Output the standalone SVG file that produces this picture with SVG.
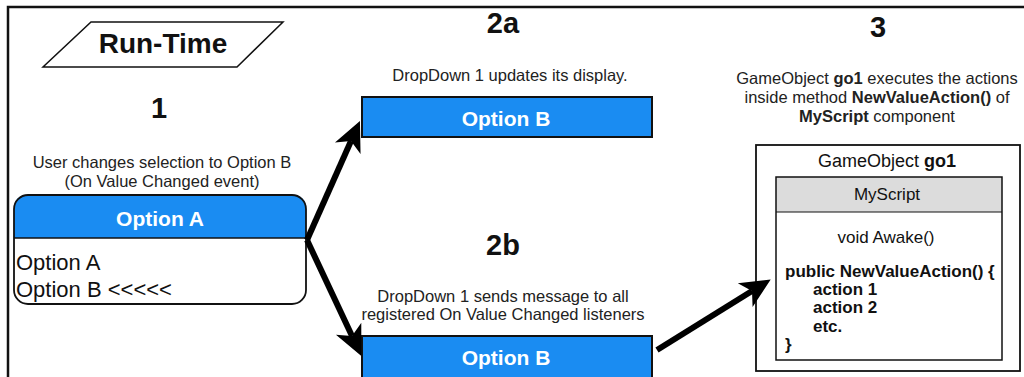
<svg xmlns="http://www.w3.org/2000/svg" width="1024" height="377" viewBox="0 0 1024 377">
<style>
text{font-family:"Liberation Sans",Arial,Helvetica,sans-serif;fill:#111}
.num{font-size:29px;font-weight:bold;text-anchor:middle}
.desc{font-size:16.5px;text-anchor:middle;fill:#222}
.opt{font-size:21px;font-weight:bold;fill:#fff;text-anchor:middle}
.bar{fill:#1a8cf2;stroke:#111;stroke-width:2}
.code{font-size:17px;fill:#111}
.b{font-weight:bold}
.conn{stroke:#000;stroke-width:6;fill:none;marker-end:url(#ah)}
</style>
<defs>
<marker id="ah" markerUnits="userSpaceOnUse" viewBox="0 0 30 30" markerWidth="30" markerHeight="30" refX="8" refY="15" orient="auto">
<path d="M0,1 L30,15 L0,29 L8,15 Z" fill="#000"/>
</marker>
</defs>
<rect width="1024" height="377" fill="#fff"/>
<path d="M8,377 V7 H1024" fill="none" stroke="#111" stroke-width="2.5"/>

<g id="runtime">
<polygon points="91,22 283,22 237,67 43,67" fill="#fff" stroke="#111" stroke-width="1.5"/>
<text x="163" y="53" class="num" style="font-size:28px">Run-Time</text>
</g>

<g id="step1">
<text x="159" y="118" class="num">1</text>
<text x="162" y="168" class="desc">User changes selection to Option B</text>
<text x="162" y="187" class="desc">(On Value Changed event)</text>
</g>

<g id="dropdown1">
<path d="M14,238 V209 Q14,195 28,195 H292 Q306,195 306,209 V238 Z" fill="#1a8cf2"/>
<rect x="14" y="195" width="292" height="109" rx="14" fill="none" stroke="#111" stroke-width="1.8"/>
<line x1="14" y1="238" x2="306" y2="238" stroke="#111" stroke-width="1.5"/>
<text x="160" y="226" class="opt">Option A</text>
<text x="16" y="270" style="font-size:22px">Option A</text>
<text x="16" y="297" style="font-size:22px">Option B &lt;&lt;&lt;&lt;&lt;</text>
</g>

<g id="step2a">
<text x="503" y="33" class="num">2a</text>
<text x="510" y="81" class="desc">DropDown 1 updates its display.</text>
<rect x="362" y="97" width="290" height="40" class="bar"/>
<text x="506" y="126" class="opt">Option B</text>
</g>

<g id="step2b">
<text x="503" y="255" class="num">2b</text>
<text x="503" y="302" class="desc">DropDown 1 sends message to all</text>
<text x="503" y="320" class="desc">registered On Value Changed listeners</text>
<rect x="362" y="336" width="290" height="46" class="bar"/>
<text x="506" y="365" class="opt">Option B</text>
</g>

<g id="step3">
<text x="878" y="37" class="num">3</text>
<text x="877" y="84" class="desc">GameObject <tspan class="b">go1</tspan> executes the actions</text>
<text x="877" y="103" class="desc">inside method <tspan class="b">NewValueAction()</tspan> of</text>
<text x="877" y="122" class="desc"><tspan class="b">MyScript</tspan> component</text>
</g>

<g id="go1">
<rect x="756" y="145" width="264" height="226" fill="#fff" stroke="#111" stroke-width="1.8"/>
<text x="887" y="167" class="code" style="text-anchor:middle;font-size:18px">GameObject <tspan class="b">go1</tspan></text>
<rect x="776" y="177" width="226" height="35" fill="#dcdcdc"/>
<rect x="776" y="177" width="226" height="183" fill="none" stroke="#111" stroke-width="1.5"/>
<line x1="776" y1="212" x2="1002" y2="212" stroke="#111" stroke-width="1.2"/>
<text x="887" y="200" class="code" style="text-anchor:middle">MyScript</text>
<text x="886" y="243" class="code" style="text-anchor:middle">void Awake()</text>
<text x="785" y="277" class="code b">public NewValueAction() {</text>
<text x="813" y="295" class="code b">action 1</text>
<text x="813" y="313" class="code b">action 2</text>
<text x="813" y="332" class="code b">etc.</text>
<text x="785" y="350" class="code b">}</text>
</g>

<g id="connectors">
<line x1="307" y1="240" x2="351" y2="141" class="conn"/>
<line x1="307" y1="240" x2="352" y2="336" class="conn"/>
<line x1="657" y1="350" x2="752" y2="291" class="conn"/>
</g>
</svg>
